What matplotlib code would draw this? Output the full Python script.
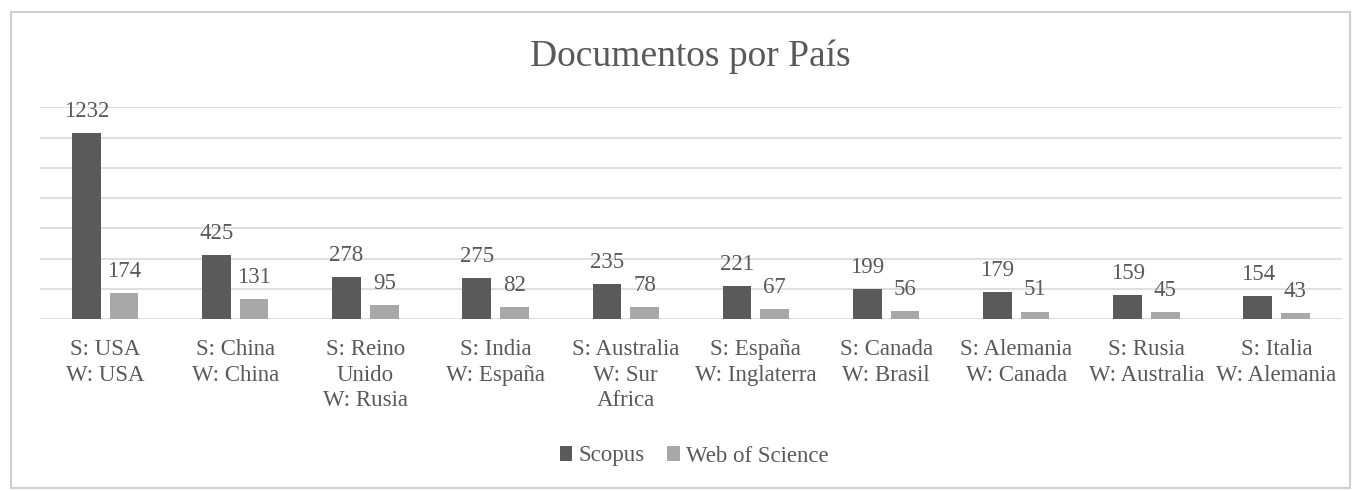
import matplotlib
matplotlib.use("Agg")
import matplotlib.pyplot as plt
import numpy as np
from matplotlib.patches import Patch, FancyBboxPatch

categories = [
    "S: USA\nW: USA",
    "S: China\nW: China",
    "S: Reino\nUnido\nW: Rusia",
    "S: India\nW: España",
    "S: Australia\nW: Sur\nAfrica",
    "S: España\nW: Inglaterra",
    "S: Canada\nW: Brasil",
    "S: Alemania\nW: Canada",
    "S: Rusia\nW: Australia",
    "S: Italia\nW: Alemania",
]
scopus = [1232, 425, 278, 275, 235, 221, 199, 179, 159, 154]
wos = [174, 131, 95, 82, 78, 67, 56, 51, 45, 43]
series_names = ["Scopus", "Web of Science"]

plt.rcParams['font.family'] = ['Liberation Serif', 'DejaVu Serif']
TXT = '#595959'
DARK = '#5a5a5a'
LIGHT = '#a8a8a8'
GRID = '#d9d9d9'

W, H = 1360, 491
fig = plt.figure(figsize=(W / 100, H / 100), dpi=100)
fig.patch.set_facecolor('white')

# chart border
border = FancyBboxPatch((11 / W, 3 / H), (1350 - 11) / W, (479 - 3) / H,
                        boxstyle="square,pad=0", transform=fig.transFigure,
                        facecolor='none', edgecolor='#d0d0d0', linewidth=1.5)
fig.patches.append(border)

left, right = 40 / W, 1341.7 / W
bottom, top = 1 - 319.3 / H, 1 - 107.3 / H
ax = fig.add_axes([left, bottom, right - left, top - bottom])

x = np.arange(len(categories))
bw = 0.22
off = 0.1445
b1 = ax.bar(x - off, scopus, width=bw, color=DARK, label=series_names[0], zorder=3)
b2 = ax.bar(x + off, wos, width=bw, color=LIGHT, label=series_names[1], zorder=3)

ax.bar_label(b1, labels=[str(v) for v in scopus], padding=8, fontsize=16.5, color=TXT)
ax.bar_label(b2, labels=[str(v) for v in wos], padding=8, fontsize=16.5, color=TXT)

ax.set_xlim(-0.5, len(categories) - 0.5)
ax.set_ylim(0, 1400)
ax.set_yticks(np.arange(0, 1401, 200))
ax.yaxis.grid(True, color=GRID, linewidth=1.2, zorder=0)
ax.set_yticklabels([])
ax.tick_params(axis='y', length=0)
ax.set_xticks(x)
ax.set_xticklabels(categories, fontsize=16.5, color=TXT, linespacing=1.3)
ax.tick_params(axis='x', length=0, pad=14)
for s in ax.spines.values():
    s.set_visible(False)
ax.set_facecolor('none')

fig.text(0.5075, 1 - 57 / H, "Documentos por País", ha='center', va='center',
         fontsize=27, color=TXT)

handles = [Patch(facecolor=DARK), Patch(facecolor=LIGHT)]
fig.legend(handles, series_names, loc='center', bbox_to_anchor=(694 / W, 1 - 456 / H),
           ncol=2, frameon=False, fontsize=16.5, handlelength=0.55, handleheight=0.6,
           handletextpad=0.25, columnspacing=1.0, labelcolor=TXT)

fig.savefig("out.png", dpi=100, facecolor='white')
